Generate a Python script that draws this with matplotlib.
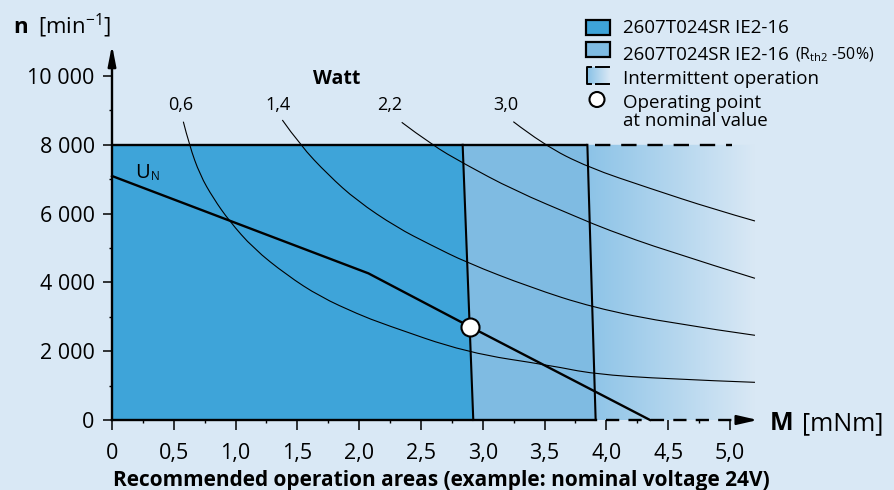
import matplotlib
matplotlib.use('Agg')
import matplotlib.pyplot as plt
import numpy as np
from matplotlib.patches import Polygon, Rectangle, Circle, PathPatch
from matplotlib.path import Path
from matplotlib.colors import LinearSegmentedColormap

plt.rcParams['font.family'] = ['Open Sans', 'DejaVu Sans']
plt.rcParams['mathtext.fontset'] = 'custom'
plt.rcParams['mathtext.rm'] = 'Open Sans'
plt.rcParams['mathtext.bf'] = 'Open Sans:bold'

BG = '#d9e8f5'
DARK = '#3ea4d9'
LIGHT = '#7fbbe2'
FADE = '#8cc3e7'

# data (M in mNm, n in min-1)
n_max = 8000
dark_edge = [2.837, 2.923]     # torque limit at n_max and at n = 0
light_edge = [3.846, 3.913]    # same, R_th2 -50%
fade_end = 5.2

un_M = [0.0, 2.074, 2.896, 4.353]
un_n = [7093, 4264, 2713, 0]
op_M = 2.896
op_n = 2713

w06_M = [0.577, 0.625, 0.712, 0.820, 0.949, 1.143, 1.413, 1.683, 1.993, 2.195, 2.870, 3.557, 3.894, 4.488, 5.202]
w06_n = [8672, 7994, 7122, 6445, 5785, 4991, 4215, 3584, 3073, 2791, 1957, 1580, 1337, 1192, 1095]
w14_M = [1.378, 1.521, 1.750, 1.980, 2.303, 2.573, 2.870, 3.382, 3.894, 4.541, 5.202]
w14_n = [8721, 7994, 7122, 6380, 5600, 5100, 4575, 3860, 3265, 2800, 2462]
w22_M = [2.344, 2.586, 2.842, 3.247, 3.786, 4.002, 4.475, 5.202]
w22_n = [8654, 8000, 7462, 6686, 5863, 5540, 4930, 4119]
w30_M = [3.247, 3.490, 3.854, 4.350, 4.865, 5.202]
w30_n = [8672, 8003, 7340, 6735, 6130, 5785]
watt_names = ['0,6', '1,4', '2,2', '3,0']
watt_label_M = [0.558, 1.346, 2.249, 3.186]

x_ticks = [0, 0.5, 1.0, 1.5, 2.0, 2.5, 3.0, 3.5, 4.0, 4.5, 5.0]
x_labels = ['0', '0,5', '1,0', '1,5', '2,0', '2,5', '3,0', '3,5', '4,0', '4,5', '5,0']
y_ticks = [0, 2000, 4000, 6000, 8000, 10000]
y_labels = ['0', '2 000', '4 000', '6 000', '8 000', '10 000']


def smooth_path(xs, ys):
    # quadratic bezier through the read points, so the curve has no corners
    verts = [(xs[0], ys[0])]
    codes = [Path.MOVETO]
    last = len(xs) - 1
    for i in range(1, last):
        if i == last - 1:
            end = (xs[last], ys[last])
        else:
            end = ((xs[i] + xs[i + 1]) / 2, (ys[i] + ys[i + 1]) / 2)
        verts += [(xs[i], ys[i]), end]
        codes += [Path.CURVE3, Path.CURVE3]
    return Path(verts, codes)


W, H = 895, 490
fig = plt.figure(figsize=(W / 100, H / 100), dpi=100, facecolor=BG)
ax = fig.add_axes([0, 0, 1, 1], facecolor=BG)

# operating areas
ax.add_patch(Polygon([(0, 0), (0, n_max), (dark_edge[0], n_max), (dark_edge[1], 0)],
                     fc=DARK, ec='none', zorder=1))
ax.add_patch(Polygon([(dark_edge[1], 0), (dark_edge[0], n_max), (light_edge[0], n_max), (light_edge[1], 0)],
                     fc=LIGHT, ec='none', zorder=1))
fade_clip = Polygon([(light_edge[1], 0), (light_edge[0], n_max), (fade_end + 0.2, n_max), (fade_end + 0.2, 0)],
                    transform=ax.transData)
fade_cmap = LinearSegmentedColormap.from_list('fade', [FADE, BG])
im = ax.imshow(np.linspace(0, 1, 256).reshape(1, -1), extent=[light_edge[0], fade_end, 0, n_max],
               aspect='auto', cmap=fade_cmap, interpolation='bilinear', zorder=1)
im.set_clip_path(fade_clip)

# watt curves
for cm, cn in [(w06_M, w06_n), (w14_M, w14_n), (w22_M, w22_n), (w30_M, w30_n)]:
    ax.add_patch(PathPatch(smooth_path(cm, cn), fc='none', ec='k', lw=0.8, zorder=3))

# limits
ax.plot(dark_edge, [n_max, 0], color='k', lw=1.5, zorder=4)
ax.plot(light_edge, [n_max, 0], color='k', lw=1.5, zorder=4)
ax.plot([0, light_edge[0]], [n_max, n_max], color='k', lw=1.7, zorder=4, solid_capstyle='butt')
ax.plot([light_edge[0] + 0.06, 5.02], [n_max, n_max], color='k', lw=1.7, dashes=(6.5, 4.6), zorder=4)

# nominal voltage line and operating point
ax.plot(un_M, un_n, color='k', lw=1.7, zorder=5)
ax.plot(op_M, op_n, 'o', ms=13, mfc='white', mec='k', mew=1.5, zorder=6)

# axes
for s in ['top', 'right']:
    ax.spines[s].set_visible(False)
ax.spines['left'].set_position(('data', 0))
ax.spines['bottom'].set_position(('data', 0))
ax.spines['left'].set_bounds(0, 10500)
ax.spines['bottom'].set_bounds(0, light_edge[1])
for s in ['left', 'bottom']:
    ax.spines[s].set_linewidth(1.7)
    ax.spines[s].set_zorder(7)
ax.plot([4.0, 5.1], [0, 0], color='k', lw=1.7, dashes=(5.6, 3.9), zorder=7)
ax.annotate('', xy=(5.225, 0), xytext=(5.05, 0),
            arrowprops=dict(arrowstyle='-|>,head_length=0.87,head_width=0.2', mutation_scale=14,
                            color='k', lw=1.7, shrinkA=0, shrinkB=0), zorder=7)
ax.annotate('', xy=(0, 10900), xytext=(0, 10300),
            arrowprops=dict(arrowstyle='-|>,head_length=0.87,head_width=0.17', mutation_scale=14,
                            color='k', lw=1.7, shrinkA=0, shrinkB=0), zorder=7)

ax.set_xticks(x_ticks, labels=x_labels)
ax.set_xticks(np.arange(0.25, 5.0, 0.5), minor=True)
ax.set_yticks(y_ticks, labels=y_labels)
ax.set_yticks(np.arange(1000, 10000, 2000), minor=True)
ax.tick_params(axis='x', which='major', direction='out', length=7.5, width=1.1, labelsize=15.5, pad=9)
ax.tick_params(axis='x', which='minor', direction='out', length=2.5, width=1.0)
ax.tick_params(axis='y', which='major', direction='out', length=6.5, width=1.1, labelsize=15.5, pad=6)
ax.tick_params(axis='y', which='minor', direction='out', length=2.2, width=1.0)

# labels inside the chart
ax.text(1.82, 9767, 'Watt', fontsize=14, fontweight='bold', ha='center', va='baseline')
for name, lm in zip(watt_names, watt_label_M):
    ax.text(lm, 9012, name, fontsize=13, ha='center', va='baseline')
u_txt = ax.text(0.186, 7035, 'U', fontsize=14.5, ha='left', va='baseline', zorder=8)
ax.annotate('N', xy=(1, 0), xycoords=u_txt, xytext=(1, 0), textcoords='offset points',
            fontsize=8.5, ha='left', va='bottom', zorder=8)

ax.set_xlim(-112 / 123.6, (W - 112) / 123.6)
ax.set_ylim(-(H - 420) / 0.0344, 420 / 0.0344)

# overlay in pixel coordinates for outer texts and legend
ov = fig.add_axes([0, 0, 1, 1])
ov.axis('off')
ov.patch.set_visible(False)

ov.text(13, 33.3, 'n', fontsize=16, fontweight='bold', va='baseline')
ov.text(37.7, 33.3, r'[min$^{-1}$]', fontsize=16, va='baseline')
ov.text(770, 430, 'M', fontsize=18, fontweight='bold', va='baseline')
ov.text(801.7, 430, '[mNm]', fontsize=18, va='baseline')
ov.text(441.5, 486, 'Recommended operation areas (example: nominal voltage 24V)',
        fontsize=15, fontweight='bold', ha='center', va='baseline')

# legend
ov.add_patch(Rectangle((586.5, 20), 23.5, 15, fc=DARK, ec='k', lw=1.6))
ov.add_patch(Rectangle((586.5, 42.5), 23.5, 15, fc=LIGHT, ec='k', lw=1.6))
ov.imshow(np.linspace(0, 1, 64).reshape(1, -1), extent=[588, 610, 84, 67.5], aspect='auto',
          cmap=fade_cmap, interpolation='bilinear')
ov.plot([591, 587.5, 587.5, 591], [67.5, 67.5, 84, 84], color='k', lw=1.4)
ov.plot([596, 609.5], [67.5, 67.5], color='k', lw=1.4)
ov.plot([596, 609.5], [84, 84], color='k', lw=1.4)
ov.add_patch(Circle((597, 99.5), 7.5, fc='white', ec='k', lw=1.5))
ov.set_xlim(0, W)
ov.set_ylim(H, 0)

ov.text(623.3, 33.3, '2607T024SR IE2-16', fontsize=13.5, va='baseline')
row2 = ov.text(623.3, 60, '2607T024SR IE2-16', fontsize=13.5, va='baseline')
ov.annotate(r'(R$_{\mathrm{th2}}$ -50%)', xy=(1, 0), xycoords=row2, xytext=(4, 0),
            textcoords='offset points', fontsize=11.5, va='bottom')
ov.text(623.3, 84.3, 'Intermittent operation', fontsize=13.5, va='baseline')
ov.text(623.3, 108.3, 'Operating point', fontsize=13.5, va='baseline')
ov.text(623.3, 125.7, 'at nominal value', fontsize=13.5, va='baseline')

fig.savefig('out.png', dpi=100, facecolor=BG)
